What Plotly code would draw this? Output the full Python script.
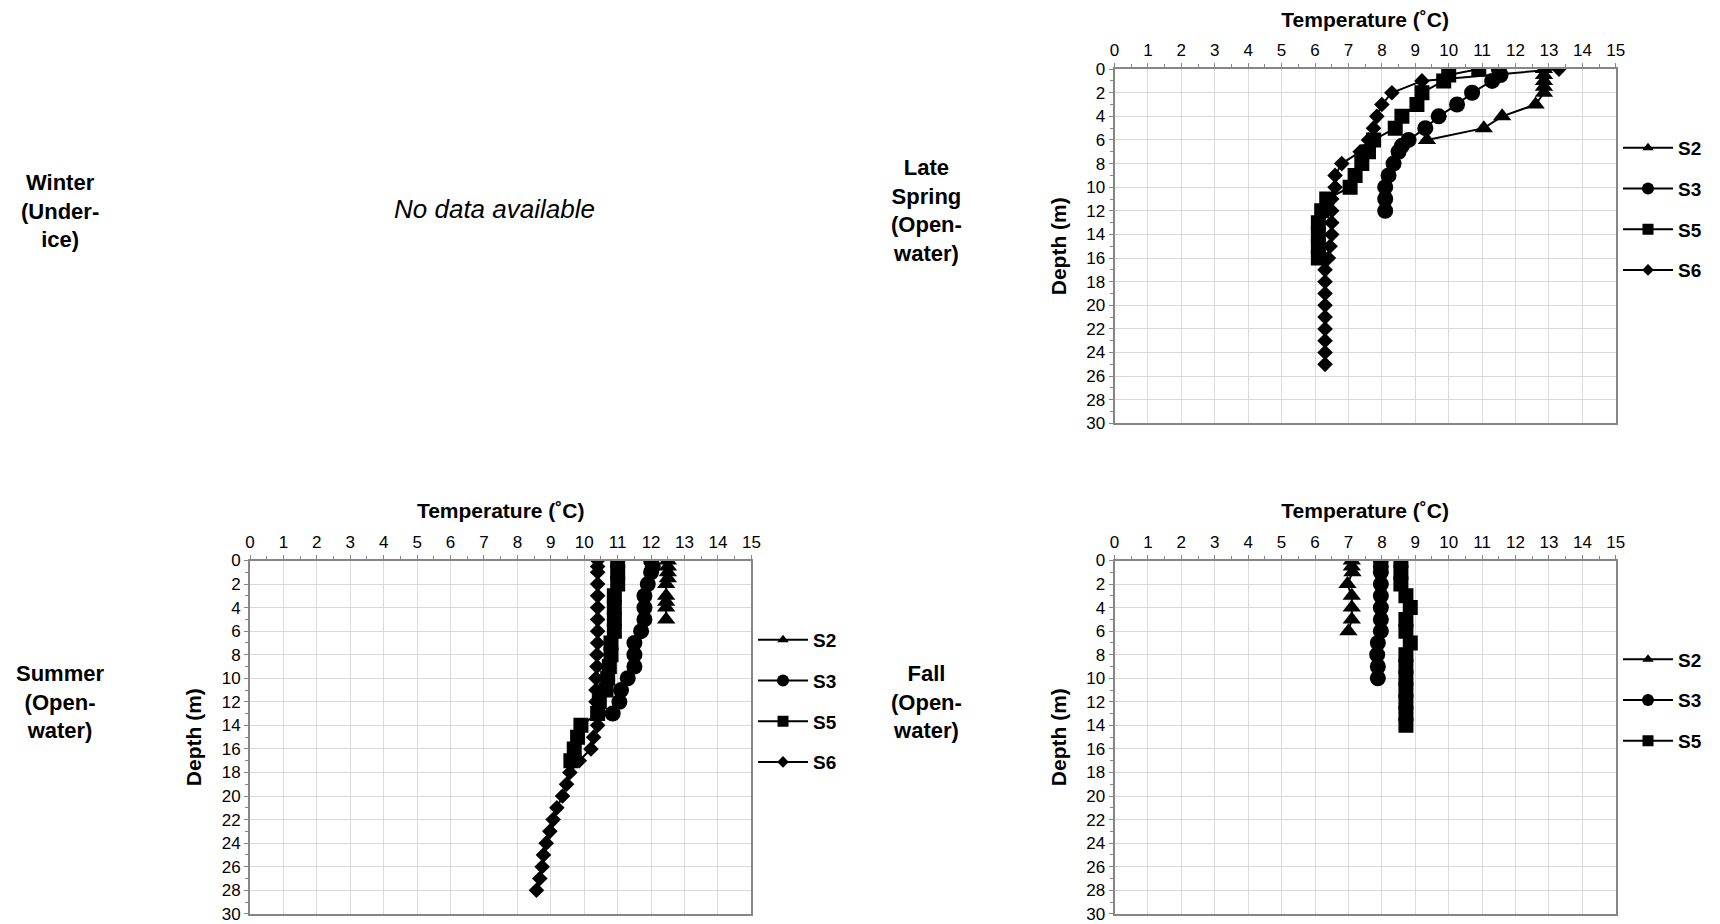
import plotly.graph_objects as go

# ---------------- data (temperature in deg C, depth in m) ----------------
series_names = ["S2", "S3", "S5", "S6"]
temp_ticks = list(range(0, 16))
depth_ticks = list(range(0, 31, 2))

# Late Spring (Open-water)
ls_s2_depth = [0, 0.5, 1, 1.5, 2, 3, 4, 5, 6]
ls_s2_temp = [12.85, 12.85, 12.85, 12.85, 12.85, 12.6, 11.6, 11.05, 9.35]
ls_s3_depth = [0, 0.5, 1, 2, 3, 4, 5, 6, 6.5, 7, 8, 9, 10, 11, 12]
ls_s3_temp = [11.5, 11.55, 11.3, 10.7, 10.25, 9.7, 9.3, 8.8, 8.6, 8.5, 8.35, 8.2, 8.1, 8.1, 8.1]
ls_s5_depth = [0, 0.5, 1, 2, 3, 4, 5, 6, 7, 8, 9, 10, 11, 12, 13, 14, 15, 16]
ls_s5_temp = [10.9, 10.0, 9.85, 9.2, 9.05, 8.6, 8.4, 7.75, 7.6, 7.4, 7.2, 7.05, 6.35, 6.2, 6.1, 6.1, 6.1, 6.1]
ls_s6_depth = [0, 1, 2, 3, 4, 5, 6, 7, 8, 9, 10, 11, 12, 13, 14, 15, 16, 17, 18, 19, 20, 21, 22, 23, 24, 25]
ls_s6_temp = [13.3, 9.2, 8.3, 8.0, 7.85, 7.75, 7.6, 7.35, 6.8, 6.6, 6.6, 6.5, 6.5, 6.5, 6.5, 6.45, 6.4,
              6.3, 6.3, 6.3, 6.3, 6.3, 6.3, 6.3, 6.3, 6.3]

# Summer (Open-water)
su_s2_depth = [0, 0.5, 1, 1.5, 2, 3, 3.5, 4, 5]
su_s2_temp = [12.5, 12.5, 12.5, 12.5, 12.45, 12.45, 12.45, 12.45, 12.45]
su_s3_depth = [0, 0.5, 1, 2, 3, 4, 5, 6, 7, 8, 9, 10, 11, 12, 13]
su_s3_temp = [12.0, 12.05, 12.0, 11.9, 11.8, 11.8, 11.8, 11.7, 11.5, 11.5, 11.5, 11.3, 11.1, 11.05, 10.85]
su_s5_depth = [0, 1, 2, 3, 4, 5, 6, 7, 8, 9, 10, 11, 12, 13, 14, 15, 16, 17]
su_s5_temp = [11.0, 11.0, 11.0, 10.9, 10.9, 10.9, 10.9, 10.8, 10.8, 10.75, 10.7, 10.65, 10.45, 10.4,
              9.9, 9.8, 9.7, 9.6]
su_s6_depth = [0, 0.5, 1, 2, 3, 4, 5, 6, 7, 8, 9, 10, 11, 12, 13, 14, 15, 16, 17, 18, 19, 20,
               21, 22, 23, 24, 25, 26, 27, 28]
su_s6_temp = [10.4, 10.4, 10.4, 10.4, 10.4, 10.4, 10.4, 10.4, 10.4, 10.38, 10.38, 10.35, 10.35, 10.35,
              10.45, 10.4, 10.28, 10.2, 9.85, 9.57, 9.47, 9.35, 9.18, 9.07, 8.97, 8.86, 8.78, 8.74,
              8.67, 8.57]

# Fall (Open-water)
fa_s2_depth = [0, 0.5, 1, 2, 3, 4, 5, 6]
fa_s2_temp = [7.1, 7.1, 7.12, 6.97, 7.1, 7.1, 7.1, 7.0]
fa_s3_depth = [0, 0.5, 1, 2, 3, 4, 5, 6, 7, 8, 9, 10]
fa_s3_temp = [7.97, 7.97, 7.97, 7.97, 7.97, 7.97, 7.97, 7.97, 7.88, 7.86, 7.88, 7.88]
fa_s5_depth = [0, 1, 2, 3, 4, 5, 6, 7, 8, 9, 10, 11, 12, 13, 14]
fa_s5_temp = [8.57, 8.57, 8.57, 8.72, 8.85, 8.72, 8.72, 8.85, 8.72, 8.72, 8.72, 8.72, 8.72, 8.72, 8.72]

# ---------------- styling ----------------
W, H = 1720, 924
FONT = "Liberation Sans, Arial, Helvetica, sans-serif"
AXIS_GREY = "#868686"
GRID_GREY = "#d9d9d9"

symbols = {"S2": "triangle-up", "S3": "circle", "S5": "square", "S6": "diamond"}
plot_sizes = {"S2": 16, "S3": 16, "S5": 15, "S6": 12}
legend_sizes = {"S2": 10, "S3": 12, "S5": 11, "S6": 9}


def px_x(v):
    """page pixel -> paper fraction"""
    return v / W


def px_y(v):
    return 1 - v / H


panels = [
    # (axis suffix, legend id, x-domain px, y-domain px (top,bottom), series)
    ("", "legend", (1114.5, 1615.8), (69.1, 423.4),
     {"S2": (ls_s2_temp, ls_s2_depth), "S3": (ls_s3_temp, ls_s3_depth),
      "S5": (ls_s5_temp, ls_s5_depth), "S6": (ls_s6_temp, ls_s6_depth)}),
    ("2", "legend2", (250.0, 751.4), (560.5, 913.8),
     {"S2": (su_s2_temp, su_s2_depth), "S3": (su_s3_temp, su_s3_depth),
      "S5": (su_s5_temp, su_s5_depth), "S6": (su_s6_temp, su_s6_depth)}),
    ("3", "legend3", (1114.5, 1615.8), (560.5, 913.8),
     {"S2": (fa_s2_temp, fa_s2_depth), "S3": (fa_s3_temp, fa_s3_depth),
      "S5": (fa_s5_temp, fa_s5_depth)}),
]

fig = go.Figure()
layout_axes = {}

for suffix, leg, (x0, x1), (yt, yb), series in panels:
    xa = "x" + suffix
    ya = "y" + suffix
    for name, (temps, depths) in series.items():
        fig.add_trace(go.Scatter(
            x=temps, y=depths, mode="lines+markers", name=name,
            xaxis=xa, yaxis=ya, showlegend=False,
            line=dict(color="black", width=2),
            marker=dict(symbol=symbols[name], size=plot_sizes[name], color="black",
                        line=dict(width=0)),
            hoverinfo="x+y+name",
        ))
        # legend entry (smaller glyph, like the original legend)
        fig.add_trace(go.Scatter(
            x=[None], y=[None], mode="lines+markers", name=name,
            xaxis=xa, yaxis=ya, showlegend=True, legend=leg, legendgroup=leg + name,
            line=dict(color="black", width=2),
            marker=dict(symbol=symbols[name], size=legend_sizes[name], color="black",
                        line=dict(width=0)),
        ))
    layout_axes["xaxis" + suffix] = dict(
        domain=[px_x(x0), px_x(x1)], anchor=ya, side="top", range=[0, 15],
        tickmode="array", tickvals=temp_ticks, ticktext=[str(t) for t in temp_ticks],
        showgrid=True, gridcolor=GRID_GREY, gridwidth=1.3,
        showline=True, linecolor=AXIS_GREY, linewidth=2, mirror=True,
        ticks="outside", ticklen=4, tickcolor=AXIS_GREY, tickwidth=1,
        minor=dict(dtick=0.5, ticks="outside", ticklen=3, tickcolor=AXIS_GREY, showgrid=False),
        tickfont=dict(family=FONT, size=17, color="black"),
        title=dict(text="Temperature (˚C)", standoff=8,
                   font=dict(family=FONT, size=21, color="black", weight="bold")),
        zeroline=False, fixedrange=True, automargin=False,
    )
    layout_axes["yaxis" + suffix] = dict(
        domain=[px_y(yb), px_y(yt)], anchor=xa, range=[30, 0],
        tickmode="array", tickvals=depth_ticks, ticktext=[str(t) for t in depth_ticks],
        showgrid=True, gridcolor=GRID_GREY, gridwidth=1.3,
        showline=True, linecolor=AXIS_GREY, linewidth=2, mirror=True,
        ticks="outside", ticklen=4, tickcolor=AXIS_GREY, tickwidth=1,
        minor=dict(dtick=1, ticks="outside", ticklen=3, tickcolor=AXIS_GREY, showgrid=False),
        tickfont=dict(family=FONT, size=17, color="black"),
        title=dict(text="Depth (m)", standoff=14,
                   font=dict(family=FONT, size=21, color="black", weight="bold")),
        zeroline=False, fixedrange=True, automargin=False,
    )

legend_common = dict(
    font=dict(family=FONT, size=19, color="black", weight="bold"),
    bgcolor="rgba(0,0,0,0)", borderwidth=0, tracegroupgap=13, itemwidth=50,
    xanchor="left", yanchor="top", orientation="v",
)

row_font = dict(family=FONT, size=22, color="black", weight="bold")
annotations = [
    dict(text="Winter<br>(Under-<br>ice)", x=px_x(60), y=px_y(211), font=row_font),
    dict(text="Late<br>Spring<br>(Open-<br>water)", x=px_x(926), y=px_y(211), font=row_font),
    dict(text="Summer<br>(Open-<br>water)", x=px_x(60), y=px_y(702), font=row_font),
    dict(text="Fall<br>(Open-<br>water)", x=px_x(926), y=px_y(702), font=row_font),
    dict(text="<i>No data available</i>", x=px_x(494), y=px_y(209.5),
         font=dict(family=FONT, size=26, color="black")),
]
for a in annotations:
    a.update(xref="paper", yref="paper", showarrow=False, align="center",
             xanchor="center", yanchor="middle")

fig.update_layout(
    width=W, height=H, autosize=False,
    margin=dict(l=0, r=0, t=0, b=0, autoexpand=False),
    paper_bgcolor="white", plot_bgcolor="white",
    font=dict(family=FONT, color="black"),
    annotations=annotations,
    legend=dict(x=px_x(1618), y=px_y(129), **legend_common),
    legend2=dict(x=px_x(753), y=px_y(621), **legend_common),
    legend3=dict(x=px_x(1618), y=px_y(640.5), **legend_common),
    **layout_axes,
)

# remove the default page margin so the 1720x924 figure fills the window exactly
fig.write_html(
    "out.html",
    config={"displayModeBar": False},
    post_script="document.body.style.margin='0px';document.body.style.overflow='hidden';",
)
